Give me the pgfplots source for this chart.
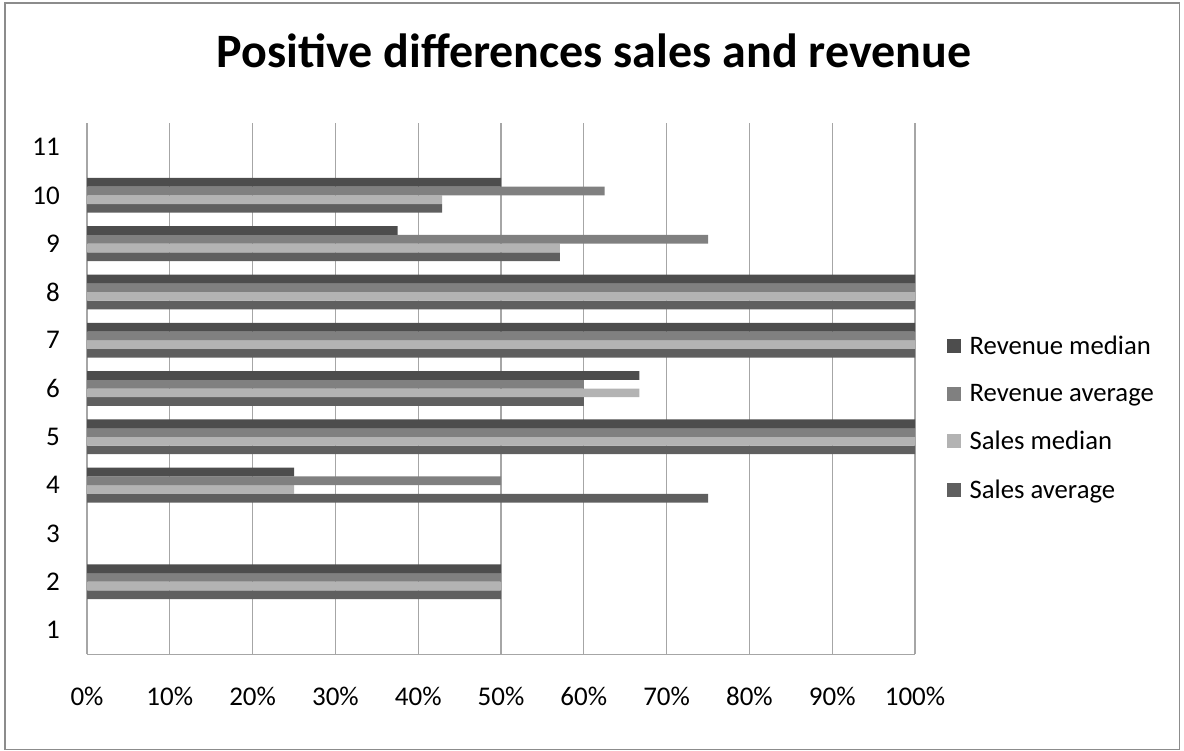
\documentclass[border=0pt]{standalone}
\usepackage{pgfplots}
\pgfplotsset{compat=1.18}
\usepackage{pgfplotstable}
\usepackage{fontspec}
\setmainfont{Carlito}
\definecolor{revmed}{HTML}{4D4D4D}
\definecolor{revavg}{HTML}{808080}
\definecolor{salmed}{HTML}{B3B3B3}
\definecolor{salavg}{HTML}{5F5F5F}
\definecolor{gridc}{HTML}{A6A6A6}
\definecolor{framec}{HTML}{8C8C8C}
\pgfplotstableread{
cat sa sm ra rm
2 50 50 50 50
4 75 25 50 25
5 100 100 100 100
6 60 66.7 60 66.7
7 100 100 100 100
8 100 100 100 100
9 57.1 57.1 75 37.5
10 42.9 42.9 62.5 50
}\datatable
\begin{document}
\begin{tikzpicture}[x=1bp,y=1bp]
\path[use as bounding box] (0,0) rectangle (1184,751);
\draw[framec, line width=1.8bp] (5,1.5) rectangle (1179.5,748);
\node[font=\fontsize{48bp}{56bp}\selectfont\bfseries, anchor=center] at (594,700) {Positive differences sales and revenue};
\begin{axis}[
  at={(87bp,96.8bp)}, anchor=south west,
  scale only axis, width=828bp, height=531.3bp,
  xmin=0, xmax=100, ymin=0.5, ymax=11.5,
  axis x line*=bottom, axis y line*=left,
  axis line style={gridc, line width=1.2bp, -},
  xmajorgrids, major grid style={gridc, line width=1.2bp},
  major tick length=0pt,
  xtick={0,10,...,100},
  xticklabels={0\%,10\%,20\%,30\%,40\%,50\%,60\%,70\%,80\%,90\%,100\%},
  ytick={1,...,11},
  yticklabels={1,2,3,4,5,6,7,8,9,10,11},
  ticklabel style={font=\fontsize{27bp}{32bp}\selectfont, inner sep=0pt},
  xticklabel style={anchor=north, yshift=-33bp},
  yticklabel style={anchor=east, xshift=-27bp},
  xbar, bar width=8.7bp,
  every axis plot/.append style={draw=none},
  legend style={at={(1.0343,0.445)}, anchor=west, draw=none, fill=none,
    font=\fontsize{26.7bp}{32bp}\selectfont, row sep=24.5bp},
  legend cell align=left,
  reverse legend,
  legend image code/.code={\fill[#1] (0bp,-7bp) rectangle (14bp,7bp); \path (21bp,0bp);},
]
\addplot[fill=salavg, bar shift=-13.05bp] table[x=sa, y=cat] {\datatable};
\addplot[fill=salmed, bar shift=-4.35bp] table[x=sm, y=cat] {\datatable};
\addplot[fill=revavg, bar shift=4.35bp] table[x=ra, y=cat] {\datatable};
\addplot[fill=revmed, bar shift=13.05bp] table[x=rm, y=cat] {\datatable};
\legend{Sales average, Sales median, Revenue average, Revenue median}
\end{axis}
\end{tikzpicture}
\end{document}
